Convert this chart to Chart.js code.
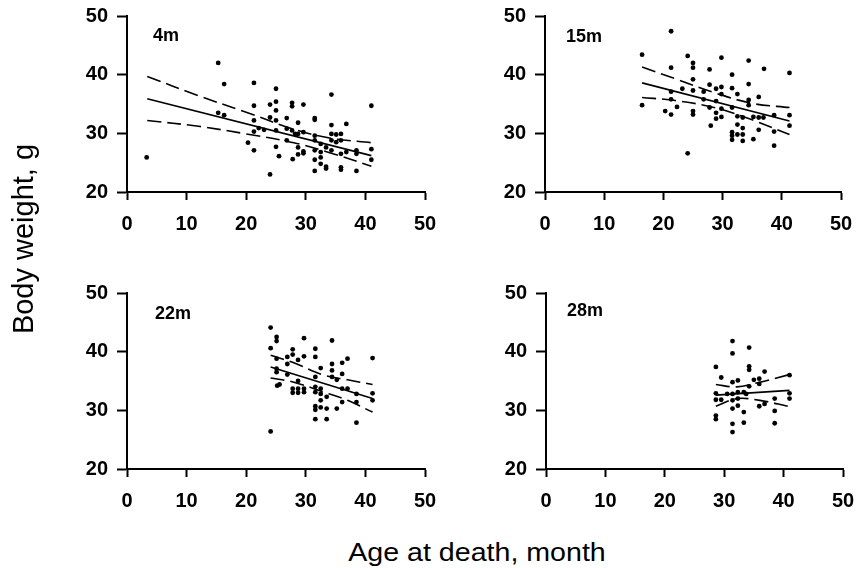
<!DOCTYPE html>
<html>
<head>
<meta charset="utf-8">
<script src="https://cdn.jsdelivr.net/npm/chart.js@4.4.1/dist/chart.umd.min.js"></script>
<style>
  html, body { margin: 0; padding: 0; background: #fff; }
  #wrap { position: relative; width: 859px; height: 568px; overflow: hidden; font-family: Arial, "Liberation Sans", sans-serif; }
  .panel { position: absolute; }
  .ytitle { position: absolute; width: 300px; height: 30px; line-height: 30px; text-align: center; font-size: 29px; color: #000; transform: rotate(-90deg); white-space: nowrap; }
  .xtitle { position: absolute; width: 400px; height: 26px; line-height: 26px; text-align: center; font-size: 26px; color: #000; transform: scaleX(1.1); white-space: nowrap; }
</style>
</head>
<body>
<div id="wrap">
  <canvas id="c4m" class="panel"></canvas>
  <canvas id="c15m" class="panel"></canvas>
  <canvas id="c22m" class="panel"></canvas>
  <canvas id="c28m" class="panel"></canvas>
  <div class="ytitle" style="left:-127px;top:224px">Body weight, g</div>
  <div class="xtitle" style="left:277px;top:539px">Age at death, month</div>
</div>
<script>
// axis ranges / ticks
const ageTicks = [0, 10, 20, 30, 40, 50];
const weightTicks = [20, 30, 40, 50];

// [age at death (month), body weight (g)] per mouse
const pts4m = [
  [3.3, 25.9], [15.3, 42.0], [16.3, 38.4], [15.3, 33.5], [16.3, 33.1],
  [21.3, 38.6], [21.3, 34.7], [21.3, 32.2], [21.3, 30.3], [21.3, 27.1], [20.3, 28.4],
  [22.1, 30.9], [23.0, 30.6], [25.0, 37.6], [25.0, 35.4], [25.0, 33.9], [25.0, 32.2],
  [25.0, 30.5], [25.0, 27.7], [24.0, 34.9], [24.0, 32.7], [24.0, 23.0], [25.5, 26.1],
  [26.8, 32.6], [26.8, 30.8], [26.8, 28.8], [27.7, 35.2], [27.7, 34.6], [27.7, 30.5],
  [27.8, 25.6], [28.7, 31.8], [28.7, 29.9], [28.7, 27.6], [28.7, 26.4], [29.6, 34.9],
  [29.6, 30.2], [29.6, 26.9], [29.6, 26.6], [28.2, 29.9], [31.5, 32.6], [31.5, 32.3],
  [31.5, 29.6], [31.5, 28.8], [31.5, 27.1], [31.5, 25.5], [31.5, 23.6], [32.5, 28.2],
  [32.5, 26.8], [32.5, 25.9], [32.5, 24.8], [33.4, 24.3], [33.4, 24.0], [33.4, 27.6],
  [34.3, 36.6], [34.3, 31.4], [34.3, 29.9], [34.3, 28.8], [34.3, 27.1], [35.1, 29.8],
  [35.1, 28.5], [35.9, 29.9], [35.9, 28.8], [35.9, 26.5], [35.9, 24.2], [35.9, 23.8],
  [36.8, 31.6], [36.8, 26.8], [38.5, 27.1], [38.5, 26.5], [38.5, 23.6], [41.0, 34.7],
  [41.0, 27.3], [41.0, 25.5]
];
const pts15m = [
  [16.4, 43.4], [16.4, 34.8], [21.3, 47.4], [21.3, 41.2], [21.3, 37.1], [21.3, 35.8],
  [21.3, 33.2], [20.3, 33.8], [22.3, 34.5], [23.2, 37.6], [24.1, 43.2], [24.1, 26.6],
  [25.0, 42.0], [25.0, 41.2], [25.0, 39.2], [25.0, 37.3], [25.0, 33.8], [25.0, 33.2],
  [26.8, 37.1], [26.8, 35.8], [27.8, 40.9], [27.8, 38.3], [27.8, 34.4], [28.0, 31.3],
  [28.9, 37.6], [28.9, 35.5], [28.9, 33.5], [28.9, 32.5], [29.8, 42.9], [29.8, 37.9],
  [29.8, 36.7], [29.8, 34.2], [29.8, 32.8], [31.6, 40.0], [31.6, 37.7], [31.6, 34.4],
  [31.6, 30.2], [31.6, 29.6], [31.6, 28.9], [32.5, 36.7], [32.5, 32.9], [32.5, 31.5],
  [32.5, 29.8], [33.4, 32.7], [33.4, 30.9], [33.4, 29.8], [33.4, 28.7], [34.4, 42.4],
  [34.4, 38.4], [34.4, 35.7], [34.4, 34.8], [35.2, 29.0], [35.2, 32.8], [36.1, 36.2],
  [36.1, 32.7], [36.1, 30.6], [36.9, 32.7], [37.0, 41.0], [38.7, 33.1], [38.7, 30.3],
  [38.7, 27.9], [41.3, 40.3], [41.3, 33.1], [41.3, 31.3]
];
const pts22m = [
  [24.1, 44.1], [24.1, 40.6], [24.1, 26.4], [25.1, 42.5], [25.1, 41.8], [25.1, 38.8],
  [25.1, 37.1], [25.1, 36.5], [25.2, 34.2], [25.6, 34.4], [26.9, 39.1], [26.9, 37.9],
  [26.9, 36.1], [27.8, 40.4], [27.8, 39.5], [27.8, 33.7], [27.8, 33.0], [28.7, 38.6],
  [28.7, 35.0], [28.7, 33.7], [28.7, 33.0], [29.7, 42.3], [29.7, 39.2], [29.7, 33.7],
  [29.7, 33.1], [31.6, 40.5], [31.6, 39.1], [31.6, 35.7], [31.6, 34.0], [31.6, 33.1],
  [31.6, 30.7], [31.6, 30.1], [31.6, 28.5], [32.5, 37.2], [32.5, 33.7], [32.5, 32.8],
  [32.5, 31.7], [32.5, 30.5], [33.5, 32.3], [33.5, 30.3], [33.5, 28.5], [34.4, 41.9],
  [34.4, 37.9], [34.4, 36.8], [34.4, 35.7], [35.2, 35.2], [35.2, 30.3], [36.1, 38.1],
  [36.1, 36.2], [36.1, 33.7], [36.1, 31.4], [37.0, 38.8], [37.0, 33.7], [38.5, 32.8],
  [38.5, 31.4], [38.5, 27.9], [41.2, 38.9], [41.2, 32.9], [41.2, 31.7]
];
const pts28m = [
  [28.6, 37.4], [28.6, 32.9], [28.6, 31.8], [28.6, 29.1], [28.6, 28.5], [29.5, 35.6],
  [29.5, 31.8], [30.5, 32.8], [31.4, 41.8], [31.4, 39.7], [31.4, 34.8], [31.4, 32.8],
  [31.4, 31.7], [31.4, 30.3], [31.4, 27.7], [31.4, 26.3], [32.3, 35.1], [32.3, 33.1],
  [32.3, 32.0], [32.3, 30.8], [33.3, 29.7], [33.3, 27.9], [33.3, 33.1], [33.7, 32.8],
  [34.2, 40.7], [34.2, 37.5], [34.2, 36.9], [34.2, 34.1], [35.0, 35.2], [35.9, 35.4],
  [35.9, 34.5], [35.9, 30.7], [36.8, 36.6], [36.8, 31.1], [38.5, 32.0], [38.5, 29.9],
  [38.5, 27.8], [41.0, 36.0], [41.0, 32.9], [41.0, 32.0]
];

// regression line and 95% band, read at a few ages
const fit4m = [[3.4, 35.9], [41.0, 26.2]];
const upper4m = [[3.4, 39.7], [12, 36.4], [20, 33.6], [28, 30.7], [34, 29.2], [41.0, 28.4]];
const lower4m = [[3.4, 32.2], [12, 31.2], [20, 29.9], [28, 28.4], [34, 26.7], [41.0, 24.4]];
const fit15m = [[16.4, 38.6], [41.3, 32.1]];
const upper15m = [[16.4, 41.3], [22, 39.3], [29, 36.8], [35, 35.1], [41.3, 34.4]];
const lower15m = [[16.4, 36.1], [22, 35.6], [29, 34.3], [35, 32.3], [41.3, 29.8]];
const fit22m = [[24.1, 37.4], [41.2, 32.0]];
const upper22m = [[24.1, 39.4], [28, 38.1], [33, 36.0], [37, 35.2], [41.2, 34.4]];
const lower22m = [[24.1, 35.5], [28, 34.8], [33, 33.1], [37, 31.7], [41.2, 29.7]];
const fit28m = [[28.6, 32.6], [41.0, 33.4]];
const upper28m = [[28.6, 34.4], [32.1, 34.0], [36.0, 34.8], [41.0, 36.1]];
const lower28m = [[28.6, 30.7], [32.1, 32.0], [36.0, 31.7], [40.7, 30.7]];

const FONT = 'Arial, "Liberation Sans", sans-serif';
const YW = 110, PADT = 14, PADR = 24, XH = 56;

const panels = [
  { id: 'c4m',  label: '4m',  left: 127, top: 16,  w: 298, pts: pts4m,  fit: fit4m,  up: upper4m,  lo: lower4m,  lx: 26, ly: 25 },
  { id: 'c15m', label: '15m', left: 545, top: 16,  w: 296, pts: pts15m, fit: fit15m, up: upper15m, lo: lower15m, lx: 21, ly: 26 },
  { id: 'c22m', label: '22m', left: 127, top: 293, w: 298, pts: pts22m, fit: fit22m, up: upper22m, lo: lower22m, lx: 28, ly: 26 },
  { id: 'c28m', label: '28m', left: 546, top: 293, w: 297, pts: pts28m, fit: fit28m, up: upper28m, lo: lower28m, lx: 21, ly: 23 },
];
const plotH = 176;

const toXY = arr => arr.map(p => ({ x: p[0], y: p[1] }));

const labelPlugin = {
  id: 'panelLabel',
  afterDraw(chart, args, opts) {
    const { ctx, chartArea } = chart;
    ctx.save();
    ctx.fillStyle = '#000';
    ctx.font = 'bold 18px ' + FONT;
    ctx.textBaseline = 'alphabetic';
    ctx.fillText(opts.text, chartArea.left + opts.dx, chartArea.top + opts.dy);
    ctx.restore();
  }
};

function axisOpts(ticksArr, len, pad) {
  return {
    type: 'linear',
    min: ticksArr[0],
    max: ticksArr[ticksArr.length - 1],
    afterBuildTicks: s => { s.ticks = ticksArr.map(v => ({ value: v })); },
    grid: { display: true, drawOnChartArea: false, drawTicks: true, tickLength: len, tickColor: '#000', tickWidth: 2 },
    border: { display: true, color: '#000', width: 2 },
    ticks: { color: '#000', padding: pad, font: { family: FONT, size: 20, weight: 'bold' } },
  };
}

panels.forEach(p => {
  const cv = document.getElementById(p.id);
  cv.width = YW + p.w + PADR;
  cv.height = PADT + plotH + XH;
  cv.style.left = (p.left - YW) + 'px';
  cv.style.top = (p.top - PADT) + 'px';

  // fixed axis boxes, no extra label padding so the plot box lands where we put it
  const xs = axisOpts(ageTicks, 8, 12);
  xs.afterFit = s => { s.height = XH; s.paddingLeft = 0; s.paddingRight = 0; };
  const ys = axisOpts(weightTicks, 10, 9);
  ys.afterFit = s => { s.width = YW; s.paddingTop = 0; s.paddingBottom = 0; };

  const bandStyle = { type: 'line', borderColor: '#000', borderWidth: 1.6, borderDash: [14, 6], pointRadius: 0, tension: 0.35, fill: false };

  new Chart(cv, {
    type: 'scatter',
    data: {
      datasets: [
        { data: toXY(p.pts), backgroundColor: '#000', borderColor: '#000', pointRadius: 2.4, pointBorderWidth: 0 },
        { type: 'line', data: toXY(p.fit), borderColor: '#000', borderWidth: 1.6, pointRadius: 0, fill: false },
        Object.assign({ data: toXY(p.up) }, bandStyle),
        Object.assign({ data: toXY(p.lo) }, bandStyle),
      ],
    },
    options: {
      responsive: false,
      devicePixelRatio: 1,
      animation: false,
      layout: { padding: { left: 0, top: PADT, right: PADR, bottom: 0 } },
      plugins: {
        legend: { display: false },
        tooltip: { enabled: false },
        panelLabel: { text: p.label, dx: p.lx, dy: p.ly },
      },
      scales: { x: xs, y: ys },
    },
    plugins: [labelPlugin],
  });
});
</script>
</body>
</html>
